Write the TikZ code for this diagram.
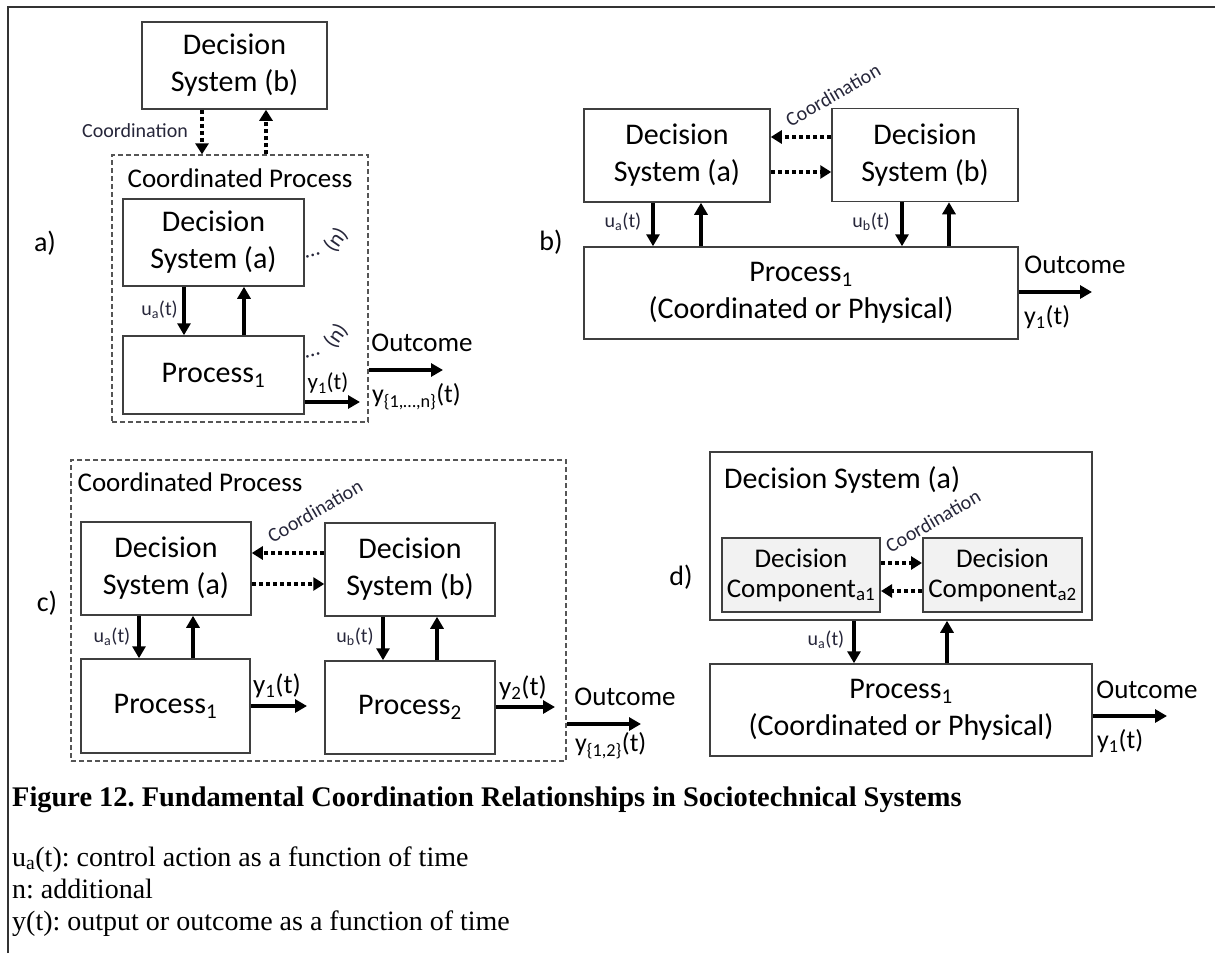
\documentclass[tikz,border=0pt]{standalone}
\usepackage{fontspec}
\setmainfont{Carlito}
\newfontfamily\serifcap{Liberation Serif}
\usetikzlibrary{arrows.meta}
\frenchspacing

\definecolor{boxgray}{HTML}{3F3F3F}
\definecolor{dashgray}{HTML}{555555}
\definecolor{lblc}{HTML}{26263A}
\definecolor{compfill}{HTML}{F2F2F2}
\definecolor{framec}{HTML}{333333}

\begin{document}
\begin{tikzpicture}[x=1pt,y=-1pt,
  box/.style={draw=boxgray, line width=1.5pt, inner sep=0pt, align=center,
    font=\fontsize{30}{37}\selectfont},
  compbox/.style={draw=boxgray, line width=2pt, fill=compfill, inner sep=0pt,
    align=center, font=\fontsize{27}{30}\selectfont},
  groupbox/.style={draw=dashgray, line width=1.3pt, dash pattern=on 5pt off 3pt,
    inner sep=0pt},
  grouptitle/.style={inner sep=0pt, anchor=base, font=\fontsize{27}{30}\selectfont},
  panel/.style={inner sep=0pt, font=\fontsize{28}{30}\selectfont},
  ctrl/.style={inner sep=0pt, text=lblc, font=\fontsize{20}{22}\selectfont},
  moremark/.style={inner sep=0pt, text=lblc, font=\fontsize{22}{24}\selectfont},
  coordlbl/.style={inner sep=0pt, text=lblc, font=\fontsize{20}{22}\selectfont},
  outlbl/.style={inner sep=0pt, font=\fontsize{27}{30}\selectfont},
  ylbl/.style={inner sep=0pt, font=\fontsize{26}{28}\selectfont},
  arr/.style={line width=4pt, -{Triangle[length=12pt,width=13pt]}},
  dotarr/.style={line width=4pt, dash pattern=on 4pt off 3pt,
    -{Triangle[length=11pt,width=13pt]}},
  captxt/.style={inner sep=0pt, anchor=base west,
    font=\serifcap\fontsize{28}{30}\selectfont}
]
\useasboundingbox (0,0) rectangle (1215,953);

% frame edges
\draw[framec, line width=2pt] (8,953) -- (8,7) -- (1215,7);

% ---------------- a) ----------------
\node[panel] (lblA) at (45,243) {a)};
\node[box, minimum width=185pt, minimum height=87pt] (dsbA) at (234.5,65.5) {Decision\\System (b)};
\node[groupbox, minimum width=256pt, minimum height=267pt] (cpA) at (240,288.5) {};
\node[grouptitle] (cpAt) at (240,187) {Coordinated Process};
\node[box, minimum width=181pt, minimum height=87pt] (dsaA) at (213.5,242.5) {Decision\\System (a)};
\node[box, minimum width=181pt, minimum height=78pt] (p1A) at (213.5,375) {Process\textsubscript{1}};

\draw[dotarr] (dsbA.south -| 202,0) -- (cpA.north -| 202,0);
\draw[dotarr] (cpA.north -| 266,0) -- (dsbA.south -| 266,0);
\node[coordlbl] (coA) at (135,131) {Coordination};

\draw[arr] (dsaA.south -| 184,0) -- (p1A.north -| 184,0);
\draw[arr] (p1A.north -| 244,0) -- (dsaA.south -| 244,0);
\node[ctrl, anchor=east] (uA) at (178,310) {u\textsubscript{a}(t)};

\node[moremark, rotate=15] (dA1) at (313,255) {\dots};
\node[moremark, rotate=55] (nA1) at (336,240) {(n)};
\node[moremark, rotate=15] (dA2) at (313,355) {\dots};
\node[moremark, rotate=55] (nA2) at (336,336) {(n)};

\coordinate (y1Aend) at (360,402);
\draw[arr] (p1A.east |- y1Aend) -- (y1Aend);
\node[inner sep=0pt, font=\fontsize{23}{25}\selectfont] (y1A) at (328,383) {y\textsubscript{1}(t)};

\coordinate (outAend) at (443,370);
\draw[arr] (cpA.east |- outAend) -- (outAend);
\node[outlbl] (outA) at (422,343) {Outcome};
\node[ylbl, anchor=west] (ynA) at (372,397) {y\textsubscript{\{1,…,n\}}(t)};

% ---------------- b) ----------------
\node[panel] (lblB) at (551,242) {b)};
\node[box, minimum width=186pt, minimum height=93pt] (dsaB) at (677,155.5) {Decision\\System (a)};
\node[box, minimum width=186pt, minimum height=93pt] (dsbB) at (925,155) {Decision\\System (b)};
\node[box, minimum width=434pt, minimum height=92pt] (p1B) at (801,293) {Process\textsubscript{1}\\(Coordinated or Physical)};

\draw[dotarr] (dsbB.west |- 0,137) -- (dsaB.east |- 0,137);
\draw[dotarr] (dsaB.east |- 0,172) -- (dsbB.west |- 0,172);
\node[coordlbl, rotate=30] (coB) at (833,95) {Coordination};

\draw[arr] (dsaB.south -| 653,0) -- (p1B.north -| 653,0);
\draw[arr] (p1B.north -| 701,0) -- (dsaB.south -| 701,0);
\node[ctrl] (uaB) at (623,222) {u\textsubscript{a}(t)};
\draw[arr] (dsbB.south -| 902,0) -- (p1B.north -| 902,0);
\draw[arr] (p1B.north -| 949,0) -- (dsbB.south -| 949,0);
\node[ctrl] (ubB) at (871,222) {u\textsubscript{b}(t)};

\coordinate (outBend) at (1092,292);
\draw[arr] (p1B.east |- outBend) -- (outBend);
\node[outlbl] (outB) at (1075,265) {Outcome};
\node[ylbl, anchor=west] (y1B) at (1024,317) {y\textsubscript{1}(t)};

% ---------------- c) ----------------
\node[panel] (lblC) at (47,603) {c)};
\node[groupbox, minimum width=495pt, minimum height=301pt] (cpC) at (318.5,610.5) {};
\node[grouptitle] (cpCt) at (190,491) {Coordinated Process};
\node[box, minimum width=170pt, minimum height=93pt] (dsaC) at (166,568.5) {Decision\\System (a)};
\node[box, minimum width=170pt, minimum height=93pt] (dsbC) at (410,569.5) {Decision\\System (b)};
\node[box, minimum width=169pt, minimum height=94pt] (p1C) at (165.5,706) {Process\textsubscript{1}};
\node[box, minimum width=170pt, minimum height=93pt] (p2C) at (410,707.5) {Process\textsubscript{2}};

\draw[dotarr] (dsbC.west |- 0,553) -- (dsaC.east |- 0,553);
\draw[dotarr] (dsaC.east |- 0,584) -- (dsbC.west |- 0,584);
\node[coordlbl, rotate=30] (coC) at (315,511) {Coordination};

\draw[arr] (dsaC.south -| 139,0) -- (p1C.north -| 139,0);
\draw[arr] (p1C.north -| 193,0) -- (dsaC.south -| 193,0);
\node[ctrl] (uaC) at (112,637) {u\textsubscript{a}(t)};
\draw[arr] (dsbC.south -| 383,0) -- (p2C.north -| 383,0);
\draw[arr] (p2C.north -| 437,0) -- (dsbC.south -| 437,0);
\node[ctrl] (ubC) at (355,637) {u\textsubscript{b}(t)};

\coordinate (y1Cend) at (307,706);
\draw[arr] (p1C.east |- y1Cend) -- (y1Cend);
\node[inner sep=0pt, font=\fontsize{27}{29}\selectfont] (y1C) at (277,686) {y\textsubscript{1}(t)};
\coordinate (y2Cend) at (555,707);
\draw[arr] (p2C.east |- y2Cend) -- (y2Cend);
\node[inner sep=0pt, font=\fontsize{27}{29}\selectfont] (y2C) at (523,688) {y\textsubscript{2}(t)};

\coordinate (outCend) at (641,724);
\draw[arr] (cpC.east |- outCend) -- (outCend);
\node[outlbl] (outC) at (625,697) {Outcome};
\node[ylbl, anchor=west] (y12C) at (575,746) {y\textsubscript{\{1,2\}}(t)};

% ---------------- d) ----------------
\node[panel] (lblD) at (681,577) {d)};
\node[box, minimum width=382pt, minimum height=168pt] (dsaD) at (901,536) {};
\node[inner sep=0pt, anchor=base west, font=\fontsize{30}{37}\selectfont] (dsaDt) at (724,488) {Decision System (a)};
\node[compbox, minimum width=158pt, minimum height=74pt] (ca1) at (801,575) {Decision\\Component\textsubscript{a1}};
\node[compbox, minimum width=159pt, minimum height=74pt] (ca2) at (1002.5,575) {Decision\\Component\textsubscript{a2}};
\node[box, minimum width=382pt, minimum height=92pt] (p1D) at (901,710) {Process\textsubscript{1}\\(Coordinated or Physical)};

\draw[dotarr] (ca1.east |- 0,563) -- (ca2.west |- 0,563);
\draw[dotarr] (ca2.west |- 0,591) -- (ca1.east |- 0,591);
\node[coordlbl, rotate=30] (coD) at (933,521) {Coordination};

\draw[arr] (dsaD.south -| 854,0) -- (p1D.north -| 854,0);
\draw[arr] (p1D.north -| 947,0) -- (dsaD.south -| 947,0);
\node[ctrl] (uaD) at (826,640) {u\textsubscript{a}(t)};

\coordinate (outDend) at (1167,716);
\draw[arr] (p1D.east |- outDend) -- (outDend);
\node[outlbl] (outD) at (1147,690) {Outcome};
\node[ylbl, anchor=west] (y1D) at (1097,741) {y\textsubscript{1}(t)};

% ---------------- caption and legend ----------------
\node[captxt, font=\serifcap\bfseries\fontsize{28.4}{30}\selectfont] (cap) at (12,806)
  {Figure 12. Fundamental Coordination Relationships in Sociotechnical Systems};
\node[captxt] (leg1) at (12,866) {u\textsubscript{a}(t): control action as a function of time};
\node[captxt] (leg2) at (12,898) {n: additional};
\node[captxt] (leg3) at (12,930) {y(t): output or outcome as a function of time};
\end{tikzpicture}
\end{document}
